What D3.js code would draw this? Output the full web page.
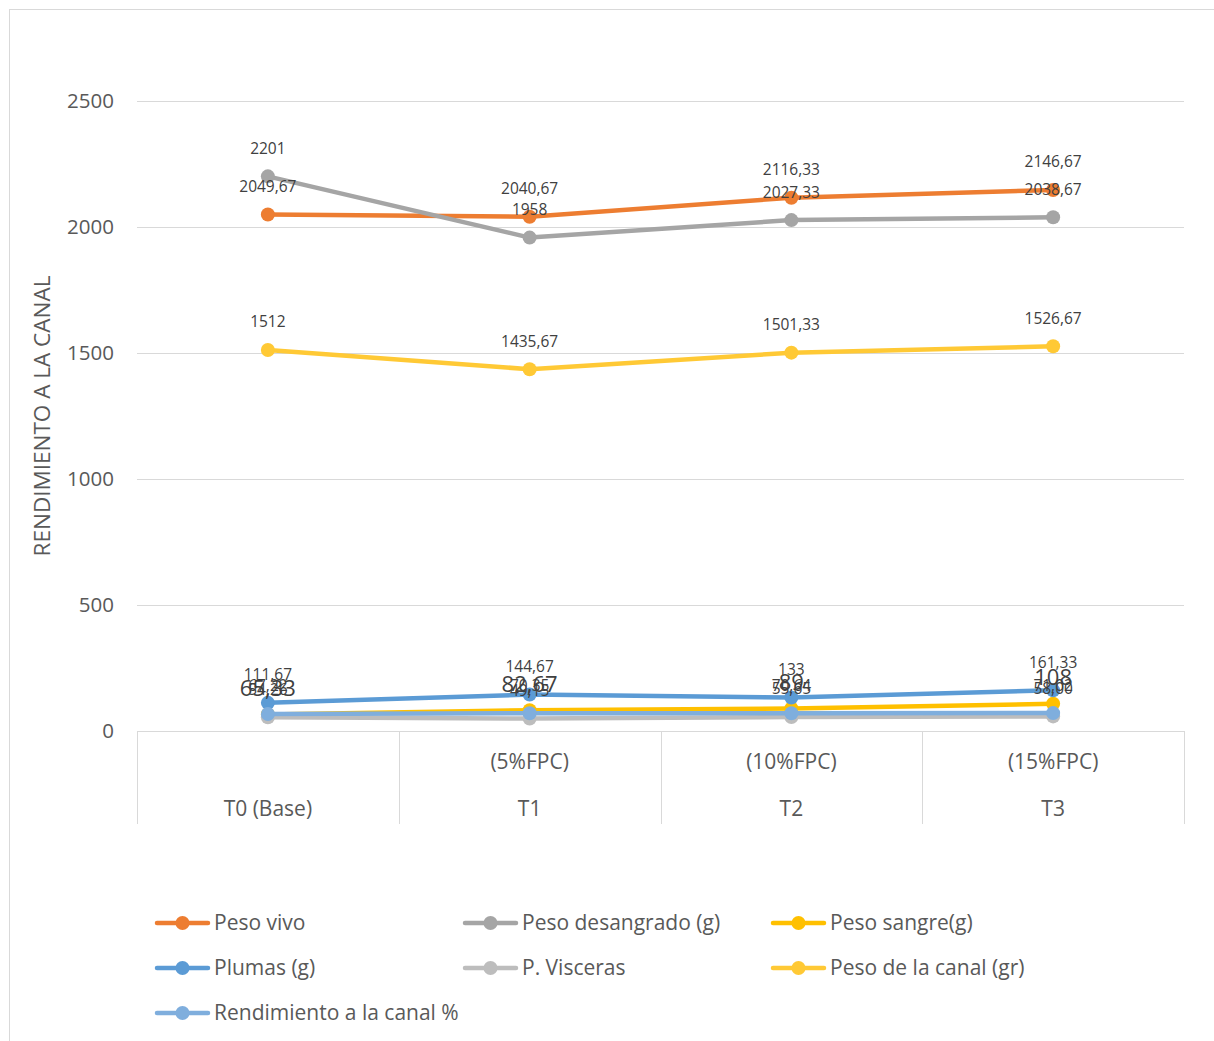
<!DOCTYPE html>
<html>
<head>
<meta charset="utf-8">
<script src="https://cdn.jsdelivr.net/npm/d3@7"></script>
<style>
  body { margin: 0; background: #fff; font-family: "Open Sans", "Noto Sans", sans-serif; }
</style>
</head>
<body>
<div id="chart"></div>
<script>
// categories (two level axis)
const categories = ["T0 (Base)", "T1", "T2", "T3"];
const subLabels = ["", "(5%FPC)", "(10%FPC)", "(15%FPC)"];
const yTicks = [0, 500, 1000, 1500, 2000, 2500];

// series values
const pesoVivo = [2049.67, 2040.67, 2116.33, 2146.67];
const pesoDesangrado = [2201, 1958, 2027.33, 2038.67];
const pesoSangre = [65.33, 82.67, 89, 108];
const plumas = [111.67, 144.67, 133, 161.33];
const visceras = [54.26, 49.15, 55.65, 58.00];
const pesoCanal = [1512, 1435.67, 1501.33, 1526.67];
const rendimiento = [67.22, 70.35, 70.64, 71.02];

const seriesNames = ["Peso vivo", "Peso desangrado (g)", "Peso sangre(g)", "Plumas (g)",
  "P. Visceras", "Peso de la canal (gr)", "Rendimiento a la canal %"];
const seriesValues = [pesoVivo, pesoDesangrado, pesoSangre, plumas, visceras, pesoCanal, rendimiento];
const seriesColors = ["#ED7D31", "#A5A5A5", "#FFC000", "#5B9BD5", "#BDBDBD", "#FFC935", "#7FAEDD"];
const labelSizes = [15.5, 15.5, 22, 15.5, 15.5, 15.5, 15.5];
const keepDecimals = [false, false, false, false, true, false, false];

const W = 1214, H = 1041;
const margin = { top: 101, left: 137, right: 30, bottom: 310 };
const width = 1184 - margin.left;
const height = 731 - margin.top;

const svg = d3.select("#chart").append("svg")
  .attr("width", W).attr("height", H);

// outer frame
svg.append("rect")
  .attr("x", 9.5).attr("y", 9.5)
  .attr("width", 1230).attr("height", 1060)
  .attr("fill", "none").attr("stroke", "#D9D9D9");

const g = svg.append("g").attr("transform", `translate(${margin.left},${margin.top})`);

const x = d3.scaleBand().domain(categories).range([0, width]);
const y = d3.scaleLinear().domain([0, 2500]).range([height, 0]);

// gridlines
g.selectAll(".grid").data(yTicks.filter(d => d > 0)).enter()
  .append("line")
  .attr("x1", 0).attr("x2", width)
  .attr("y1", d => y(d) + 0.5).attr("y2", d => y(d) + 0.5)
  .attr("stroke", "#D9D9D9").attr("stroke-width", 1);

// y tick labels
g.selectAll(".ytick").data(yTicks).enter()
  .append("text")
  .attr("x", -23).attr("y", d => y(d))
  .attr("dy", "0.35em")
  .attr("text-anchor", "end")
  .attr("fill", "#595959")
  .style("font-size", "20.5px")
  .text(d => d);

// axis title
svg.append("text")
  .attr("transform", `translate(42,${margin.top + height / 2}) rotate(-90)`)
  .attr("text-anchor", "middle")
  .attr("dy", "0.35em")
  .attr("fill", "#595959")
  .style("font-size", "22.5px")
  .text("RENDIMIENTO A LA CANAL");

// category axis (two levels)
g.append("line")
  .attr("x1", 0).attr("x2", width)
  .attr("y1", height + 0.5).attr("y2", height + 0.5)
  .attr("stroke", "#D9D9D9");
const seps = categories.map(c => x(c)).concat([width]);
g.selectAll(".sep").data(seps).enter()
  .append("line")
  .attr("x1", d => Math.round(d) + 0.5).attr("x2", d => Math.round(d) + 0.5)
  .attr("y1", height).attr("y2", height + 93)
  .attr("stroke", "#D9D9D9");
g.selectAll(".sub").data(categories).enter()
  .append("text")
  .attr("x", d => x(d) + x.bandwidth() / 2)
  .attr("y", height + 31)
  .attr("dy", "0.35em")
  .attr("text-anchor", "middle")
  .attr("fill", "#595959")
  .style("font-size", "21px")
  .text((d, i) => subLabels[i]);
g.selectAll(".cat").data(categories).enter()
  .append("text")
  .attr("x", d => x(d) + x.bandwidth() / 2)
  .attr("y", height + 78)
  .attr("dy", "0.35em")
  .attr("text-anchor", "middle")
  .attr("fill", "#595959")
  .style("font-size", "21px")
  .text(d => d);

const cx = c => x(c) + x.bandwidth() / 2;
const line = d3.line().x((d, i) => cx(categories[i])).y(d => y(d));

// lines and markers
seriesValues.forEach((vals, s) => {
  g.append("path")
    .datum(vals)
    .attr("d", line)
    .attr("fill", "none")
    .attr("stroke", seriesColors[s])
    .attr("stroke-width", 4.5)
    .attr("stroke-linejoin", "round")
    .attr("stroke-linecap", "round");
  g.selectAll(".pt" + s).data(vals).enter()
    .append("circle")
    .attr("cx", (d, i) => cx(categories[i]))
    .attr("cy", d => y(d))
    .attr("r", 7)
    .attr("fill", seriesColors[s]);
});

// data labels
const fmt = (v, s) => (Number.isInteger(v) && !keepDecimals[s] ? String(v) : v.toFixed(2).replace(".", ","));
seriesValues.forEach((vals, s) => {
  g.selectAll(".lbl" + s).data(vals).enter()
    .append("text")
    .attr("x", (d, i) => cx(categories[i]))
    .attr("y", d => y(d) - (labelSizes[s] > 16 ? 26 : 28))
    .attr("dy", "0.35em")
    .attr("text-anchor", "middle")
    .attr("fill", "#404040")
    .style("font-size", labelSizes[s] + "px")
    .text(d => fmt(d, s));
});

// legend
const legendPos = [[157, 923], [465, 923], [773, 923], [157, 968], [465, 968], [773, 968], [157, 1013]];
seriesNames.forEach((name, s) => {
  const [lx, ly] = legendPos[s];
  const lg = svg.append("g").attr("transform", `translate(${lx},${ly})`);
  lg.append("line")
    .attr("x1", 0).attr("x2", 51).attr("y1", 0).attr("y2", 0)
    .attr("stroke", seriesColors[s]).attr("stroke-width", 4.5)
    .attr("stroke-linecap", "round");
  lg.append("circle").attr("cx", 25.5).attr("cy", 0).attr("r", 7).attr("fill", seriesColors[s]);
  lg.append("text")
    .attr("x", 57).attr("y", 0).attr("dy", "0.35em")
    .attr("fill", "#595959")
    .style("font-size", "21px")
    .text(name);
});
</script>
</body>
</html>
